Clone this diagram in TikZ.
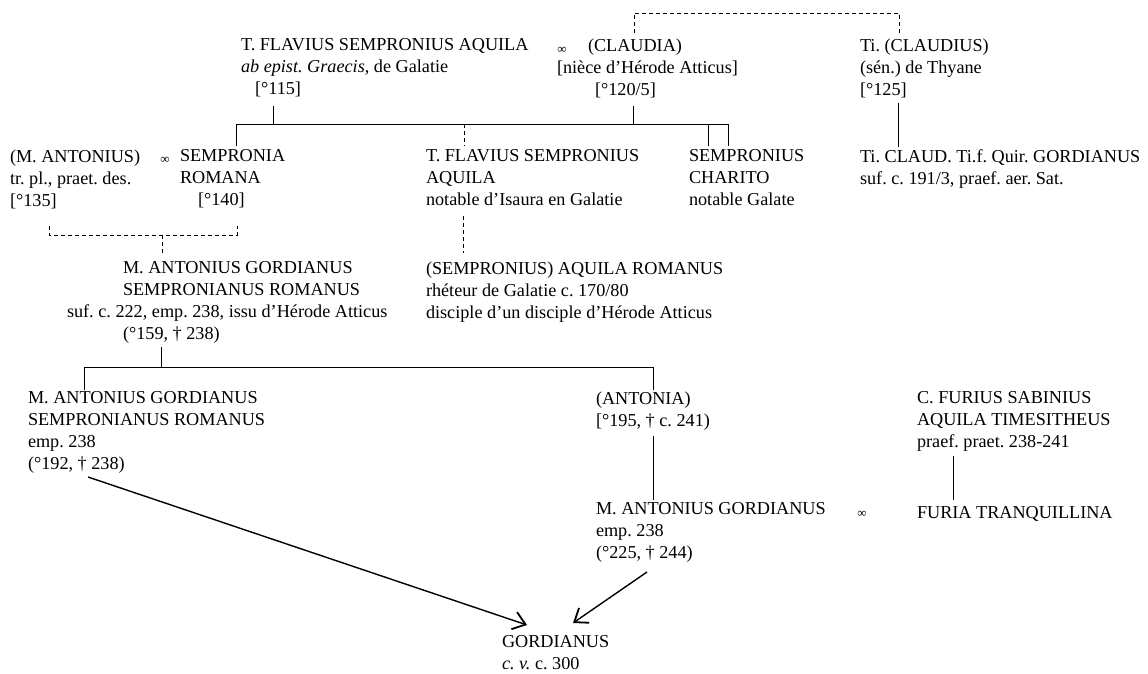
\documentclass[tikz,border=0pt]{standalone}
\usepackage{fontspec}
\setmainfont{Liberation Serif}
\usetikzlibrary{arrows.meta}
\tikzset{
  tx/.style={anchor=north west, yshift=15.4pt, inner sep=0pt, outer sep=0pt, align=left,
    font=\fontsize{18.2}{22}\selectfont\frenchspacing, execute at begin node=\strut},
  inf/.style={inner sep=0pt, font=\fontsize{13}{13}\selectfont},
  solidline/.style={line width=0.9pt},
  dashline/.style={line width=0.75pt, dash pattern=on 4pt off 3pt},
  arrowline/.style={line width=1.4pt, -{Straight Barb[length=12pt,width=18pt,line width=1.8pt]}}
}
\begin{document}
\begin{tikzpicture}[x=1pt,y=-1pt]
\useasboundingbox (0,0) rectangle (1148,674);
% --- people ---
\node[tx] (A) at (241,54) {T. FLAVIUS SEMPRONIUS AQUILA\\\textit{ab epist. Graecis}, de Galatie\\\hspace*{14pt}[°115]};
\node[inf] (inf1) at (562,50.5) {∞};
\node[tx] (B) at (557,54) {\hspace*{31pt}(CLAUDIA)\\{}[nièce d’Hérode Atticus]\\\hspace*{38pt}[°120/5]};
\node[tx] (C) at (860,54) {Ti. (CLAUDIUS)\\(sén.) de Thyane\\{}[°125]};
\node[tx] (D) at (10,165) {(M. ANTONIUS)\\tr. pl., praet. des.\\{}[°135]};
\node[inf] (inf2) at (165,160.5) {∞};
\node[tx] (E) at (180,165) {SEMPRONIA\\ROMANA\\\hspace*{18pt}[°140]};
\node[tx] (F) at (426,165) {T. FLAVIUS SEMPRONIUS\\AQUILA\\notable d’Isaura en Galatie};
\node[tx] (G) at (689,165) {SEMPRONIUS\\CHARITO\\notable Galate};
\node[tx] (H) at (860,165) {Ti. CLAUD. Ti.f. Quir. GORDIANUS\\suf. c. 191/3, praef. aer. Sat.};
\node[tx] (I) at (67,277) {\hspace*{56pt}M. ANTONIUS GORDIANUS\\\hspace*{56pt}SEMPRONIANUS ROMANUS\\suf. c. 222, emp. 238, issu d’Hérode Atticus\\\hspace*{56pt}(°159, † 238)};
\node[tx] (J) at (426,277) {(SEMPRONIUS) AQUILA ROMANUS\\rhéteur de Galatie c. 170/80\\disciple d’un disciple d’Hérode Atticus};
\node[tx] (K) at (28,407) {M. ANTONIUS GORDIANUS\\SEMPRONIANUS ROMANUS\\emp. 238\\(°192, † 238)};
\node[tx] (L) at (596,407) {(ANTONIA)\\{}[°195, † c. 241)};
\node[tx] (M) at (917,407) {C. FURIUS SABINIUS\\AQUILA TIMESITHEUS\\praef. praet. 238-241};
\node[tx] (N) at (596,518) {M. ANTONIUS GORDIANUS\\emp. 238\\(°225, † 244)};
\node[inf] (inf3) at (862,514.5) {∞};
\node[tx] (O) at (917,518) {FURIA TRANQUILLINA};
\node[tx] (P) at (502,651) {GORDIANUS\\\textit{c. v.} c. 300};
% --- junction coordinates ---
\coordinate (tB) at (634,33); \coordinate (tBu) at (634,13);
\coordinate (tC) at (899,33); \coordinate (tCu) at (899,13);
\coordinate (dA) at (273,106); \coordinate (dAb) at (273,124);
\coordinate (dB) at (633,106); \coordinate (dBb) at (633,124);
\coordinate (barL) at (236,124); \coordinate (barR) at (728,124);
\coordinate (toE) at (236,146);
\coordinate (barF) at (464,124); \coordinate (toF) at (464,146);
\coordinate (barG1) at (708,124); \coordinate (toG1) at (708,146);
\coordinate (toG2) at (728,146);
\coordinate (dC) at (898,103); \coordinate (toH) at (898,147);
\coordinate (dD) at (49,226); \coordinate (dDb) at (49,235);
\coordinate (dE) at (237,226); \coordinate (dEb) at (237,235);
\coordinate (dDE) at (162,235); \coordinate (toI) at (162,253);
\coordinate (dF) at (463,216); \coordinate (toJ) at (463,253);
\coordinate (dI) at (161,347); \coordinate (dIb) at (161,367);
\coordinate (bar2L) at (84,367); \coordinate (bar2R) at (653,367);
\coordinate (toK) at (84,390); \coordinate (toL) at (653,390);
\coordinate (dL) at (653,436); \coordinate (toN) at (653,500);
\coordinate (dM) at (953,456); \coordinate (toO) at (953,500);
\coordinate (aK) at (88,477); \coordinate (aN) at (647,572);
\coordinate (pK) at (527,625); \coordinate (pN) at (573,623);
% --- connectors ---
\draw[dashline] (tB) -- (tBu) -- (tCu) -- (tC);
\draw[solidline] (dA) -- (dAb);
\draw[solidline] (dB) -- (dBb);
\draw[solidline] (toE) -- (barL) -- (barR) -- (toG2);
\draw[dashline] (barF) -- (toF);
\draw[solidline] (barG1) -- (toG1);
\draw[solidline] (dC) -- (toH);
\draw[dashline] (dD) -- (dDb) -- (dEb) -- (dE);
\draw[dashline] (dDE) -- (toI);
\draw[dashline] (dF) -- (toJ);
\draw[solidline] (dI) -- (dIb);
\draw[solidline] (toK) -- (bar2L) -- (bar2R) -- (toL);
\draw[solidline] (dL) -- (toN);
\draw[solidline] (dM) -- (toO);
\draw[arrowline] (aK) -- (pK);
\draw[arrowline] (aN) -- (pN);
\end{tikzpicture}
\end{document}
